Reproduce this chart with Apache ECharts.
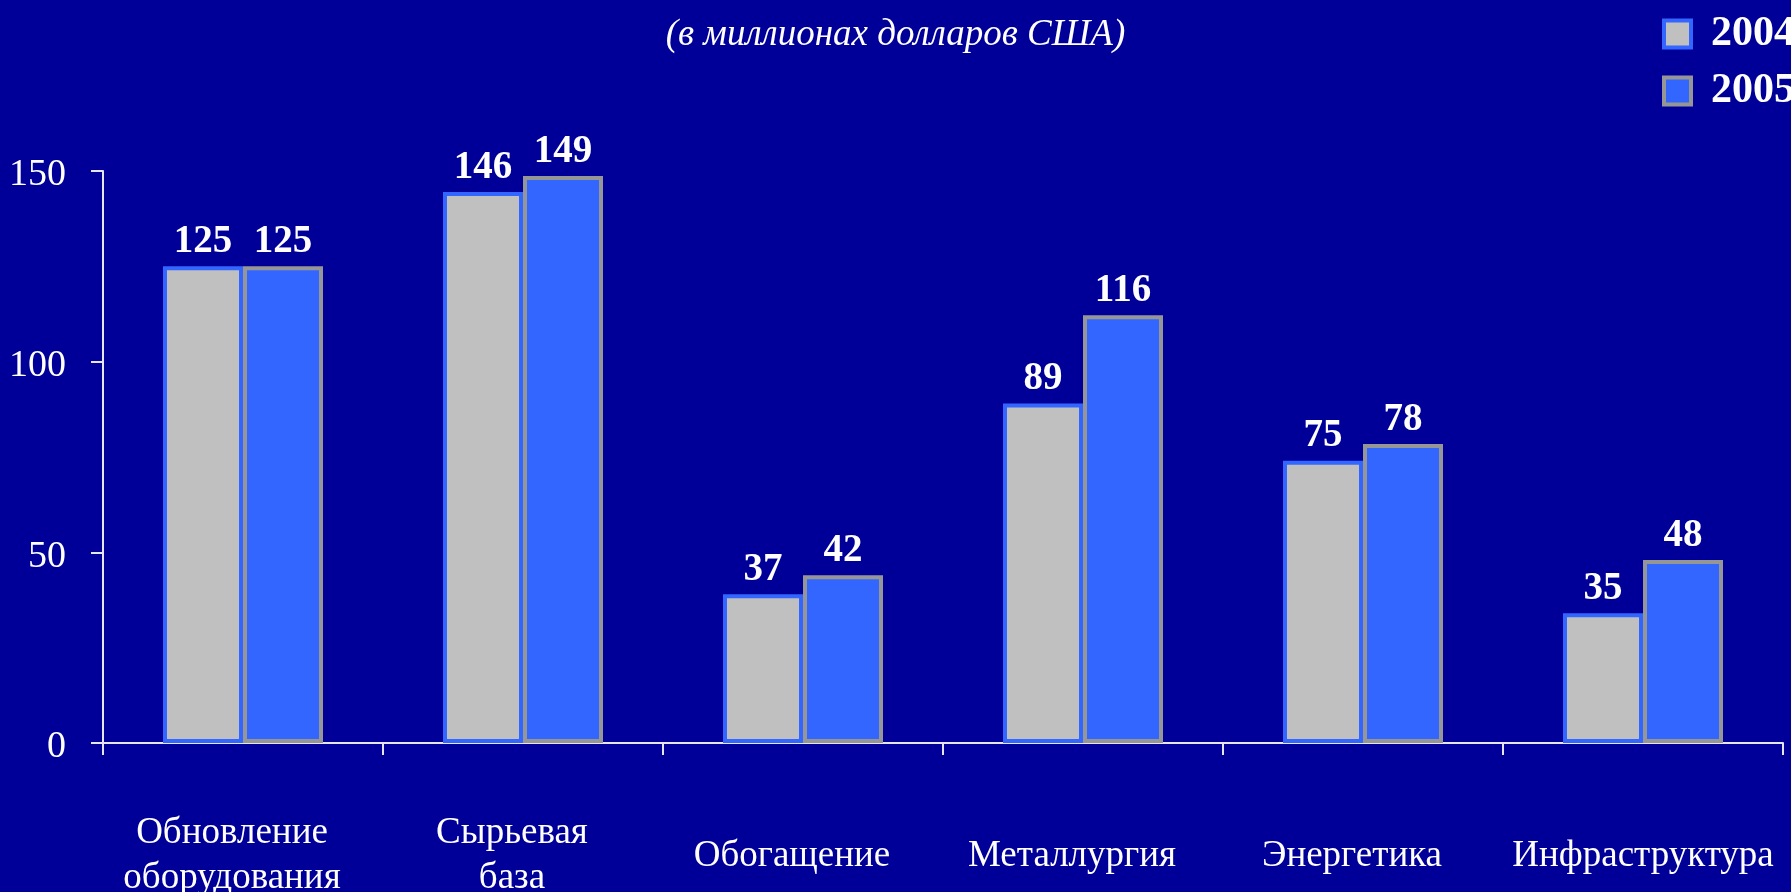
<!DOCTYPE html>
<html>
<head>
<meta charset="utf-8">
<script src="https://cdn.jsdelivr.net/npm/echarts@6/dist/echarts.min.js"></script>
<style>
  html, body { margin: 0; padding: 0; background: #000099; }
  #chart { width: 1791px; height: 892px; }
</style>
</head>
<body>
<div id="chart"></div>
<script>
// категории и значения
var categories = ['Обновление\nоборудования', 'Сырьевая\nбаза', 'Обогащение', 'Металлургия', 'Энергетика', 'Инфраструктура']
var seriesNames = ['2004', '2005']
// высота столбиков, как нарисовано на картинке
var bars2004 = [125, 144.5, 39, 89, 74, 34]
var bars2005 = [125, 148.7, 44, 112.2, 78.4, 48]
// подписи над столбиками
var labels2004 = [125, 146, 37, 89, 75, 35]
var labels2005 = [125, 149, 42, 116, 78, 48]
var yTicks = [0, 50, 100, 150]

var font = '"Liberation Serif", "Times New Roman", serif'
var grey = '#c0c0c0'
var blue = '#3366ff'
var greyBorder = '#969696'
var axisColor = '#e6e6f0'

function makeSeries (name, data, labels, fill, border) {
  return {
    name: name,
    type: 'bar',
    barWidth: 80,
    barGap: 0,
    data: data,
    itemStyle: { color: fill, borderColor: border, borderWidth: 4 },
    label: {
      show: true,
      position: 'top',
      distance: 5,
      color: '#ffffff',
      fontFamily: font,
      fontWeight: 'bold',
      fontSize: 39,
      formatter: function (p) { return labels[p.dataIndex] }
    }
  }
}

var myChart = echarts.init(document.getElementById('chart'))
var option = {
  backgroundColor: '#000099',
  animation: false,
  title: {
    text: '(в миллионах долларов США)',
    left: 'center',
    top: 12,
    textStyle: { color: '#ffffff', fontFamily: font, fontStyle: 'italic', fontWeight: 'normal', fontSize: 37 }
  },
  legend: {
    orient: 'vertical',
    left: 1657,
    top: 8,
    itemWidth: 27,
    itemHeight: 27,
    itemGap: 15,
    icon: 'rect',
    data: [
      { name: seriesNames[0], itemStyle: { color: grey, borderColor: blue, borderWidth: 4 } },
      { name: seriesNames[1], itemStyle: { color: blue, borderColor: greyBorder, borderWidth: 4 } }
    ],
    textStyle: { color: '#ffffff', fontFamily: font, fontWeight: 'bold', fontSize: 42, lineHeight: 42, padding: [0, 0, 0, 15] }
  },
  grid: { left: 103, right: 8, top: 171, bottom: 149, outerBoundsMode: 'none' },
  xAxis: {
    type: 'category',
    data: categories,
    axisLine: { lineStyle: { color: axisColor, width: 2 } },
    axisTick: { show: true, length: 12, lineStyle: { color: axisColor, width: 2 } },
    axisLabel: {
      interval: 0,
      margin: 113,
      verticalAlign: 'middle',
      color: '#ffffff',
      fontFamily: font,
      fontSize: 37,
      lineHeight: 45,
      // подписи в оригинале чуть сдвинуты влево, кроме последней
      formatter: function (value, index) {
        if (index === categories.length - 1) return value
        return value.split('\n').map(function (s) { return '{s|' + s + '}' }).join('\n')
      },
      rich: {
        s: { color: '#ffffff', fontFamily: font, fontSize: 37, lineHeight: 45, padding: [0, 22, 0, 0] }
      }
    }
  },
  yAxis: {
    type: 'value',
    min: yTicks[0],
    max: yTicks[yTicks.length - 1],
    interval: 50,
    axisLine: { show: true, lineStyle: { color: axisColor, width: 2 } },
    axisTick: { show: true, length: 12, lineStyle: { color: axisColor, width: 2 } },
    splitLine: { show: false },
    axisLabel: {
      margin: 37,
      verticalAlign: 'middle',
      formatter: function (v) { return '{v|' + v + '}' },
      rich: {
        v: { color: '#ffffff', fontFamily: font, fontSize: 38, lineHeight: 38, padding: [9, 0, 0, 0] }
      }
    }
  },
  series: [
    makeSeries(seriesNames[0], bars2004, labels2004, grey, blue),
    makeSeries(seriesNames[1], bars2005, labels2005, blue, greyBorder)
  ]
}
myChart.setOption(option)
</script>
</body>
</html>
